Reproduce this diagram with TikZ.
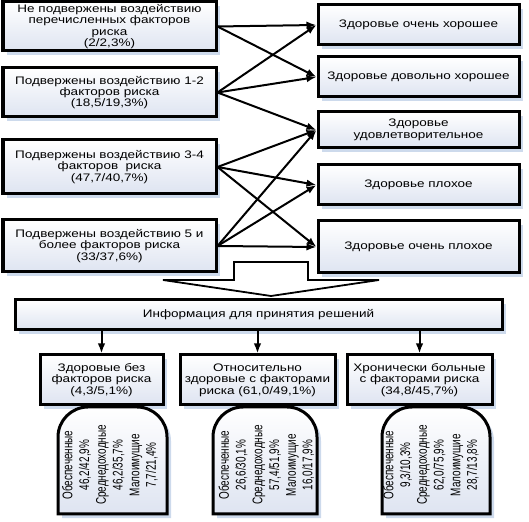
\documentclass[tikz,border=0pt]{standalone}
\usepackage{fontspec}
\setmainfont{Liberation Sans}[FakeStretch=1.24]
\newfontfamily\narrowfont{Liberation Sans}[FakeStretch=0.71]
\usetikzlibrary{arrows.meta,shadows}
\definecolor{boxblue}{RGB}{222,228,241}
\definecolor{shadowblue}{RGB}{205,218,236}
\tikzset{
	box/.style = {draw = black, line width = 3pt, top color = white, bottom color = boxblue,
		align = center, inner sep = 1pt, font = \fontsize{10.9}{11.4}\selectfont,
		drop shadow = {shadow xshift = 4pt, shadow yshift = -4pt, fill = shadowblue, opacity = 1}},
	link/.style = {-{Latex[length=10pt, width=7.5pt]}, line width = 2pt},
	bigarrow/.style = {draw = black, fill = white, line width = 1.8pt},
	tab/.style = {draw = black, line width = 3pt, top color = white, bottom color = boxblue,
		drop shadow = {shadow xshift = 4pt, shadow yshift = -4pt, fill = shadowblue, opacity = 1}},
	tabtext/.style = {rotate = 90, align = center, inner sep = 0pt,
		font = \narrowfont\fontsize{14}{16.7}\selectfont}
}
\begin{document}
\begin{tikzpicture}[x = 10pt, y = 10pt]
		\useasboundingbox (0,0) rectangle (52.9,52.1);
		
		% risk groups
		\node [box, minimum width = 213pt, minimum height = 49pt] (l1) at (10.95, 49.45) {Не подвержены воздействию\\перечисленных факторов\\риска\\(2/2,3\%)};
		\node [box, minimum width = 213pt, minimum height = 49pt] (l2) at (10.95, 42.85) {Подвержены воздействию 1-2\\факторов риска\\(18,5/19,3\%)};
		\node [box, minimum width = 213pt, minimum height = 54pt] (l3) at (10.95, 35.4) {Подвержены воздействию 3-4\\факторов\ \ риска\\(47,7/40,7\%)};
		\node [box, minimum width = 213pt, minimum height = 52pt] (l4) at (10.95, 27.5) {Подвержены воздействию 5 и\\более факторов риска\\(33/37,6\%)};
		
		% health
		\node [box, minimum width = 201pt, minimum height = 40pt] (r1) at (41.85, 49.6) {Здоровье очень хорошее};
		\node [box, minimum width = 201pt, minimum height = 40pt] (r2) at (41.85, 44.4) {Здоровье довольно хорошее};
		\node [box, minimum width = 201pt, minimum height = 36pt] (r3) at (41.85, 39.1) {Здоровье\\удовлетворительное};
		\node [box, minimum width = 201pt, minimum height = 40pt] (r4) at (41.85, 33.6) {Здоровье плохое};
		\node [box, minimum width = 201pt, minimum height = 52pt] (r5) at (41.85, 27.4) {Здоровье очень плохое};
		
		\draw [link] (l1.east) -- (r1.west);
		\draw [link] (l1.east) -- (r2.west);
		
		\draw [link] (l2.east) -- (r1.west);
		\draw [link] (l2.east) -- (r2.west);
		\draw [link] (l2.east) -- (r3.west);
		
		\draw [link] (l3.east) -- (r3.west);
		\draw [link] (l3.east) -- (r4.west);
		\draw [link] (l3.east) -- (r5.west);
		
		\draw [link] (l4.east) -- (r3.west);
		\draw [link] (l4.east) -- (r4.west);
		\draw [link] (l4.east) -- (r5.west);
		
		% big arrow
		\draw [bigarrow] (23.4, 25.9) -- (23.4, 24.1) -- (16.3, 24.1) -- (27.1, 22.5) -- (37.9, 24.1) -- (30.8, 24.1) -- (30.8, 25.9) -- cycle;
		
		\node [box, minimum width = 487pt, minimum height = 30pt] (info) at (25.85, 20.6) {Информация для принятия решений};
		
		% groups
		\node [box, minimum width = 123pt, minimum height = 50pt] (b1) at (10.15, 14.1) {Здоровые без\\факторов риска\\(4,3/5,1\%)};
		\node [box, minimum width = 155pt, minimum height = 50pt] (b2) at (25.75, 14.1) {Относительно\\здоровые с факторами\\риска (61,0/49,1\%)};
		\node [box, minimum width = 145pt, minimum height = 50pt] (b3) at (41.95, 14.1) {Хронически больные\\с факторами риска\\(34,8/45,7\%)};
		
		\draw [link] (info.south -| b1.north) -- (b1.north);
		\draw [link] (info.south -| b2.north) -- (b2.north);
		\draw [link] (info.south -| b3.north) -- (b3.north);
		
		% income tabs
		\draw [tab] (5.8, 0.7) [rounded corners = 30pt] -- (5.8, 11.4) -- (16.7, 11.4) [sharp corners] -- (16.7, 0.7) -- cycle;
		\draw [tab] (21.3, 0.7) [rounded corners = 30pt] -- (21.3, 11.4) -- (31.7, 11.4) [sharp corners] -- (31.7, 0.7) -- cycle;
		\draw [tab] (38.2, 0.7) [rounded corners = 30pt] -- (38.2, 11.4) -- (49.0, 11.4) [sharp corners] -- (49.0, 0.7) -- cycle;
		
		\node [tabtext] (t1) at (11.0, 5.6) {Обеспеченные\\46,2/42,9\%\\Среднедоходные\\46,2/35,7\%\\Малоимущие\\7,7/21,4\%};
		\node [tabtext] (t2) at (26.65, 5.6) {Обеспеченные\\26,6/30,1\%\\Среднедоходные\\57,4/51,9\%\\Малоимущие\\16,0/17,9\%};
		\node [tabtext] (t3) at (43.1, 5.6) {Обеспеченные\\9,3/10,3\%\\Среднедоходные\\62,0/75,9\%\\Малоимущие\\28,7/13,8\%};
		
\end{tikzpicture}
\end{document}
